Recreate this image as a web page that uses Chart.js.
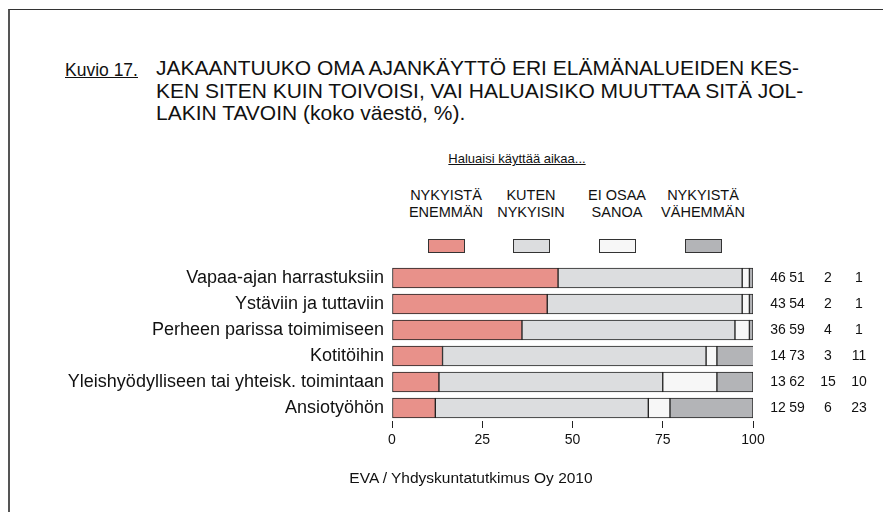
<!DOCTYPE html>
<html>
<head>
<meta charset="utf-8">
<script src="https://cdn.jsdelivr.net/npm/chart.js@4.4.1/dist/chart.umd.min.js"></script>
<style>
  body { margin: 0; background: #fff; font-family: "Liberation Sans", Arial, sans-serif; color: #111; }
  #wrap { position: relative; width: 883px; height: 512px; overflow: hidden; }
  #frame { position: absolute; left: 8px; top: 9px; width: 1000px; height: 700px;
           border-top: 1.5px solid #333; border-left: 2px solid #555; }
  #kuvio { position: absolute; left: 65px; top: 60px; font-size: 17.5px; text-decoration: underline; }
  #title { position: absolute; left: 156px; top: 57px; font-size: 21px; line-height: 22.5px; }
  #legendHead { position: absolute; left: 417px; width: 200px; top: 151px; text-align: center;
                font-size: 13px; text-decoration: underline; }
  .lg { position: absolute; top: 187px; width: 100px; text-align: center; font-size: 14.5px; line-height: 17px; }
  .lg span { display: block; width: 35px; height: 12px; margin: 18px auto 0; border: 1px solid #333; }
  #source { position: absolute; left: 0; width: 942px; top: 469px; text-align: center; font-size: 15.5px; }
  canvas { position: absolute; left: 0; top: 0; }
</style>
</head>
<body>
<div id="wrap">
  <div id="frame"></div>
  <div id="kuvio">Kuvio 17.</div>
  <div id="title">JAKAANTUUKO OMA AJANKÄYTTÖ ERI ELÄMÄNALUEIDEN KES-<br>KEN SITEN KUIN TOIVOISI, VAI HALUAISIKO MUUTTAA SITÄ JOL-<br>LAKIN TAVOIN (koko väestö, %).</div>
  <div id="legendHead">Haluaisi käyttää aikaa...</div>
  <div id="legend"></div>
  <canvas id="c" width="883" height="512"></canvas>
  <div id="source">EVA / Yhdyskuntatutkimus Oy 2010</div>
</div>
<script>
const categories = [
  'Vapaa-ajan harrastuksiin',
  'Ystäviin ja tuttaviin',
  'Perheen parissa toimimiseen',
  'Kotitöihin',
  'Yleishyödylliseen tai yhteisk. toimintaan',
  'Ansiotyöhön'
];
const seriesNames = [
  ['NYKYISTÄ', 'ENEMMÄN'],
  ['KUTEN', 'NYKYISIN'],
  ['EI OSAA', 'SANOA'],
  ['NYKYISTÄ', 'VÄHEMMÄN']
];
const more = [46, 43, 36, 14, 13, 12];
const same = [51, 54, 59, 73, 62, 59];
const dontKnow = [2, 2, 4, 3, 15, 6];
const less = [1, 1, 1, 11, 10, 23];
const xTicks = [0, 25, 50, 75, 100];
const colors = ['#E8918A', '#DCDDDF', '#F7F7F7', '#B3B4B7'];

const seriesValues = [more, same, dontKnow, less];

// html legend
const legendCenters = [446, 531, 617, 703];
const legend = document.getElementById('legend');
seriesNames.forEach((lines, i) => {
  const d = document.createElement('div');
  d.className = 'lg';
  d.style.left = (legendCenters[i] - 50) + 'px';
  d.innerHTML = lines.join('<br>') + '<span style="background:' + colors[i] + '"></span>';
  legend.appendChild(d);
});

// numbers column right of the bars
const valueColumns = {
  id: 'valueColumns',
  afterDraw(chart) {
    const ctx = chart.ctx;
    const y = chart.scales.y;
    const right = chart.chartArea.right;
    const offsets = [25, 44, 75, 106];
    ctx.save();
    ctx.font = '14px "Liberation Sans", Arial, sans-serif';
    ctx.fillStyle = '#111';
    ctx.textAlign = 'center';
    ctx.textBaseline = 'middle';
    categories.forEach((c, i) => {
      const py = y.getPixelForValue(i);
      seriesValues.forEach((vals, s) => {
        ctx.fillText(String(vals[i]), right + offsets[s], py);
      });
    });
    ctx.restore();
  }
};

new Chart(document.getElementById('c'), {
  type: 'bar',
  data: {
    labels: categories,
    datasets: seriesValues.map((vals, i) => ({
      label: seriesNames[i].join(' '),
      data: vals,
      backgroundColor: colors[i],
      borderColor: '#222',
      borderWidth: 1,
      borderSkipped: false,
      barThickness: 20
    }))
  },
  options: {
    indexAxis: 'y',
    responsive: false,
    animation: false,
    events: [],
    layout: { padding: { left: 0, right: 130, top: 265, bottom: 61 } },
    plugins: { legend: { display: false }, tooltip: { enabled: false } },
    scales: {
      x: {
        stacked: true,
        min: 0,
        max: 100,
        afterBuildTicks: (scale) => { scale.ticks = xTicks.map(v => ({ value: v })); },
        afterFit: (scale) => { scale.height = 30; },
        border: { display: false },
        grid: { drawOnChartArea: false, tickLength: 7, color: '#222', tickWidth: 1 },
        ticks: { color: '#111', padding: 4, font: { size: 14, family: '"Liberation Sans", Arial, sans-serif' } }
      },
      y: {
        stacked: true,
        afterFit: (scale) => { scale.width = 392; },
        border: { display: false },
        grid: { display: false, drawTicks: false },
        ticks: { color: '#111', padding: 8, font: { size: 18, family: '"Liberation Sans", Arial, sans-serif' } }
      }
    }
  },
  plugins: [valueColumns]
});
</script>
</body>
</html>
